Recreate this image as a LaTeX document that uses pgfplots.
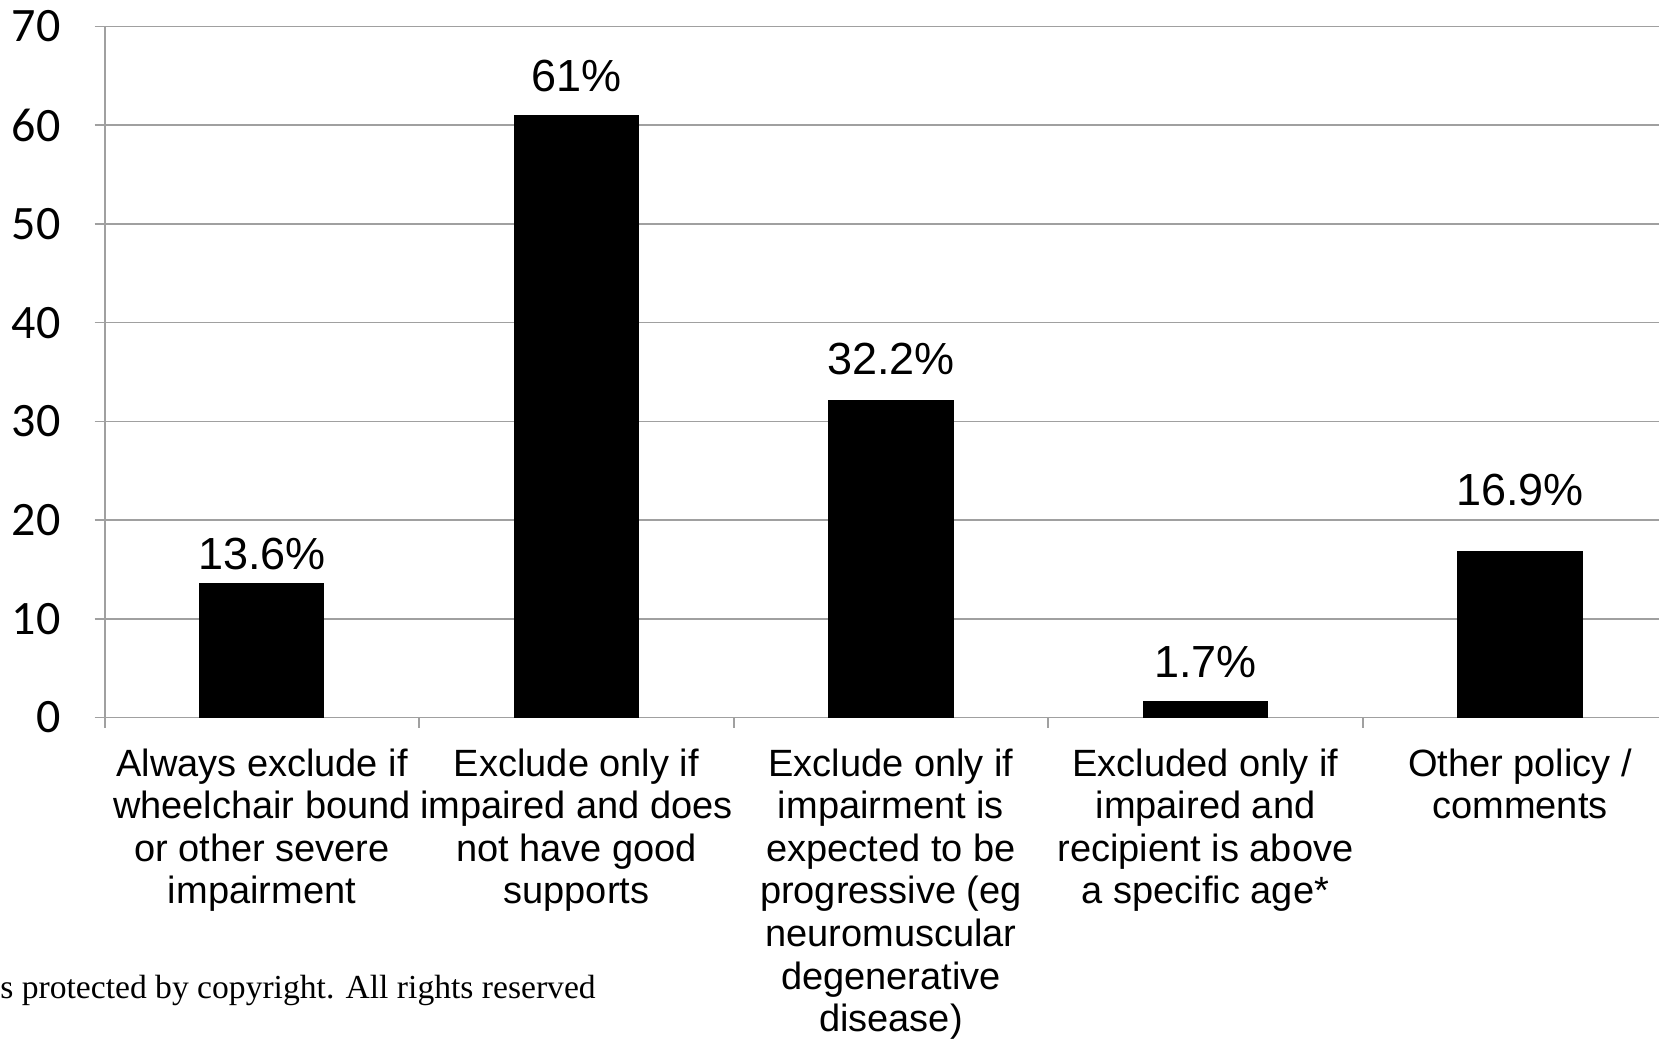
\documentclass[border=0pt]{standalone}
\usepackage{fontspec}
\setmainfont{Liberation Sans}
\newfontfamily\carlito{Carlito}
\newfontfamily\serifc{Liberation Serif}
\usepackage{pgfplots}
\pgfplotsset{compat=1.18}
\definecolor{gridgray}{RGB}{160,160,160}

% one bar, with its own gap between bar top and label
\pgfplotsset{
  onebar/.style={ybar, bar shift=0pt, fill=black, draw=none, bar width=62.5pt,
    nodes near coords, point meta=explicit symbolic,
    every node near coord/.append style={font=\fontsize{22.5}{22.5}\selectfont,
      inner sep=0pt, anchor=south, yshift=#1}},
}

\begin{document}
\begin{tikzpicture}
  \begin{axis}[
    name=ax,
    scale only axis,
    width=777pt, height=345.5pt,
    xmin=-0.5, xmax=4.442,
    ymin=0, ymax=70,
    ytick distance=10,
    xtick={0,1,2,3,4},
    minor xtick={-0.5,0.5,1.5,2.5,3.5},
    xticklabels={
      {Always exclude if\\wheelchair bound\\or other severe\\impairment},
      {Exclude only if\\impaired and does\\not have good\\supports},
      {Exclude only if\\impairment is\\expected to be\\progressive (eg\\neuromuscular\\degenerative\\disease)},
      {Excluded only if\\impaired and\\recipient is above\\a specific age*},
      {Other policy /\\comments}},
    axis x line*=bottom, axis y line*=left,
    axis line style={draw=gridgray, line width=0.8pt},
    ymajorgrids,
    grid style={draw=gridgray, line width=0.8pt},
    tick align=outside,
    major tick length=5pt, minor tick length=5pt,
    major x tick style={draw=none},
    minor x tick style={draw=gridgray, line width=0.8pt},
    major y tick style={draw=gridgray, line width=0.8pt},
    /pgf/number format/assume math mode=true,
    xticklabel style={font=\fontsize{19}{21.3}\selectfont, align=center,
      inner sep=0pt, yshift=-10.3pt},
    yticklabel style={font=\carlito\fontsize{24}{24}\selectfont, xshift=-13.5pt},
  ]
    \addplot[onebar=6.5pt]  coordinates {(0,13.6) [13.6\%]};
    \addplot[onebar=11.5pt] coordinates {(1,61)   [61\%]};
    \addplot[onebar=12pt]   coordinates {(2,32.2) [32.2\%]};
    \addplot[onebar=11.5pt] coordinates {(3,1.7)  [1.7\%]};
    \addplot[onebar=22pt]   coordinates {(4,16.9) [16.9\%]};
  \end{axis}
  \node[anchor=base west, inner sep=0pt, font=\serifc\fontsize{16.8}{16.8}\selectfont]
    at ([xshift=-52.4pt, yshift=-140.5pt]ax.south west) {s protected by copyright. All rights reserved};
  % the reference is cropped: left edge cuts the note, right edge cuts the axis
  \pgfresetboundingbox
  \path[use as bounding box] ([xshift=-52.35pt, yshift=-160.35pt]ax.south west)
    rectangle ([yshift=13.2pt]ax.north east);
\end{tikzpicture}
\end{document}
